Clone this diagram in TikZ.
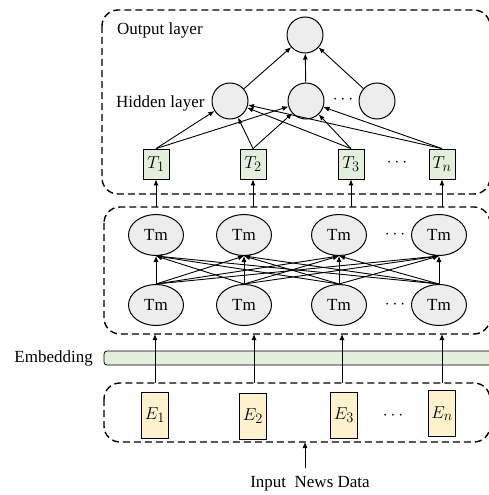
\documentclass[tikz,border=0pt]{standalone}
\usepackage{fontspec}
\setmainfont{Liberation Serif}
\usetikzlibrary{shapes.geometric,arrows.meta}
\definecolor{nodegray}{HTML}{EDEDED}
\definecolor{tgreen}{HTML}{E2EFDA}
\definecolor{eyellow}{HTML}{FFF2CC}
\begin{document}
\begin{tikzpicture}[x=1pt,y=-1pt,
  font=\fontsize{17}{20}\selectfont,
  dashbox/.style={draw,dash pattern=on 7pt off 4pt,line width=1.4pt,rounded corners=16pt},
  circ/.style={circle,draw,line width=1pt,fill=nodegray,minimum size=36pt,inner sep=0pt},
  tm/.style={ellipse,draw,line width=1pt,fill=nodegray,minimum width=55pt,minimum height=41pt,inner sep=0pt},
  tbox/.style={rectangle,draw,line width=0.8pt,fill=tgreen,minimum width=26pt,minimum height=30pt,inner sep=0pt,font=\fontsize{19}{22}\selectfont},
  ebox/.style={rectangle,draw,line width=0.9pt,fill=eyellow,minimum width=27pt,minimum height=46pt,inner sep=0pt,font=\fontsize{19}{22}\selectfont},
  arr/.style={-{Latex[length=6pt,width=5pt]},line width=0.9pt},
  lbl/.style={inner sep=0pt}
]
\useasboundingbox (0,0) rectangle (488,495);

% dashed containers
\draw[dashbox] (102,10) rectangle (490,194);
\draw[dashbox] (104,207) rectangle (490,334);
\draw[dashbox] (104,383) rectangle (490,442);
% embedding bar
\draw[fill=tgreen,line width=0.8pt,rounded corners=3pt] (104,351) rectangle (495,365);
\node[lbl,anchor=east] (emb) at (93,358) {Embedding};

% output / hidden
\node[circ] (O) at (305,35) {};
\node[circ] (H1) at (230,101) {};
\node[circ] (H2) at (306,101) {};
\node[circ] (H3) at (377,101) {};
\node (hd) at (343,100) {$\cdots$};
\node[lbl,anchor=west] (ol) at (117,30) {Output layer};
\node[lbl,anchor=west] (hl) at (116,103) {Hidden layer};

% T boxes
\node[tbox] (T1) at (156,164) {$T_1$};
\node[tbox] (T2) at (253,164) {$T_2$};
\node[tbox] (T3) at (351,164) {$T_3$};
\node[tbox] (Tn) at (442,164) {$T_n$};
\node (td) at (397,163) {$\cdots$};

% Tm ellipses
\node[tm] (U1) at (156,235) {Tm};
\node[tm] (U2) at (244,235) {Tm};
\node[tm] (U3) at (339,235) {Tm};
\node[tm] (U4) at (439,235) {Tm};
\node (ud) at (395,235) {$\cdots$};
\node[tm] (L1) at (156,305) {Tm};
\node[tm] (L2) at (244,305) {Tm};
\node[tm] (L3) at (339,305) {Tm};
\node[tm] (L4) at (439,305) {Tm};
\node (ld) at (395,305) {$\cdots$};

% E boxes
\node[ebox] (E1) at (155,415) {$E_1$};
\node[ebox] (E2) at (253,416) {$E_2$};
\node[ebox] (E3) at (344,415) {$E_3$};
\node[ebox,line width=1.6pt] (En) at (442,413.5) {$E_n$};
\node (ed) at (393,416) {$\cdots$};

% input
\node (inp) at (310,484) {Input~~News Data};
\coordinate (inpstart) at (305,468);
\coordinate (inpend) at (305,442);
\draw[arr] (inpstart) -- (inpend);

% connectors T -> hidden -> output
\foreach \t in {T1,T2,T3,Tn}
  \foreach \h in {H1,H2}
    \draw[arr] (\t.north) -- (\h);
\foreach \h in {H1,H2,H3}
  \draw[arr] (\h) -- (O);

% Tm lower -> upper
\foreach \a in {L1,L2,L3,L4}
  \foreach \b in {U1,U2,U3,U4}
    \draw[arr] (\a.north) -- (\b.south);

% middle box -> T boxes
\coordinate (m1) at (156,207);
\coordinate (m2) at (253,207);
\coordinate (m3) at (351,207);
\coordinate (m4) at (442,207);
\draw[arr] (m1) -- (T1.south);
\draw[arr] (m2) -- (T2.south);
\draw[arr] (m3) -- (T3.south);
\draw[arr] (m4) -- (Tn.south);

% input box -> middle box (through embedding)
\coordinate (i1) at (155,383);
\coordinate (i2) at (254,383);
\coordinate (i3) at (342,383);
\coordinate (i4) at (442,383);
\coordinate (b1) at (155,334);
\coordinate (b2) at (254,334);
\coordinate (b3) at (342,334);
\coordinate (b4) at (442,334);
\draw[arr] (i1) -- (b1);
\draw[arr] (i2) -- (b2);
\draw[arr] (i3) -- (b3);
\draw[arr] (i4) -- (b4);
\end{tikzpicture}
\end{document}
